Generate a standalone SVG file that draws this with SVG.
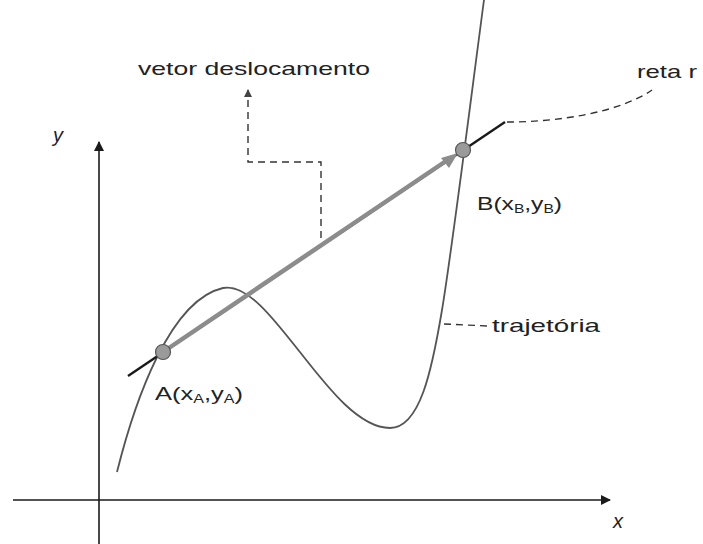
<svg xmlns="http://www.w3.org/2000/svg" width="703" height="544" viewBox="0 0 703 544">
<defs>
<style>
.t{font-family:"Liberation Sans",Arial,sans-serif;fill:#222;font-size:19px}
.ax{stroke:#1a1a1a;stroke-width:1.6;fill:none}
.dash{stroke:#333;stroke-width:1.4;fill:none;stroke-dasharray:7,5}
.pt{fill:#9a9a9a;stroke:#555;stroke-width:1.2}
.lbl{font-family:"Liberation Sans",Arial,sans-serif;font-style:italic;font-size:20px;fill:#222}
</style>
<marker id="ah" markerWidth="10" markerHeight="10" refX="9" refY="5" orient="auto" markerUnits="userSpaceOnUse">
<path d="M0,0 L10,5 L0,10 Z" fill="#1a1a1a"/>
</marker>
<marker id="sm" markerWidth="8" markerHeight="8" refX="7" refY="4" orient="auto" markerUnits="userSpaceOnUse">
<path d="M0,0 L8,4 L0,8 Z" fill="#444"/>
</marker>
</defs>
<rect width="703" height="544" fill="#ffffff"/>
<g id="axes">
<line class="ax" x1="99" y1="544" x2="99" y2="142" marker-end="url(#ah)"/>
<line class="ax" x1="13" y1="500" x2="610" y2="500" marker-end="url(#ah)"/>
<text class="lbl" x="53" y="142">y</text>
<text class="lbl" x="613" y="528">x</text>
</g>
<g id="trajetoria-curve">
<path d="M117,472 C135,400 170,300 223,288 C270,278 330,428 390,428 C420,428 432,370 442,310 C452,250 472,90 484,0" fill="none" stroke="#555" stroke-width="1.8"/>
</g>
<g id="reta-r">
<line x1="128" y1="376" x2="505" y2="122" stroke="#1a1a1a" stroke-width="2.4"/>
</g>
<g id="vetor">
<line x1="163" y1="352" x2="446" y2="161" stroke="#8c8c8c" stroke-width="4.5"/>
<path d="M458,153 L441,158 L449,168 Z" fill="#8c8c8c"/>
</g>
<g id="point-A">
<circle class="pt" cx="163" cy="352" r="7.5"/>
<text class="t" x="155" y="400" textLength="88" lengthAdjust="spacingAndGlyphs">A(x<tspan font-size="12" dy="3">A</tspan><tspan dy="-3">,y</tspan><tspan font-size="12" dy="3">A</tspan><tspan dy="-3">)</tspan></text>
</g>
<g id="point-B">
<circle class="pt" cx="463" cy="150" r="7.5"/>
<text class="t" x="477" y="210" textLength="85" lengthAdjust="spacingAndGlyphs">B(x<tspan font-size="12" dy="3">B</tspan><tspan dy="-3">,y</tspan><tspan font-size="12" dy="3">B</tspan><tspan dy="-3">)</tspan></text>
</g>
<g id="label-vetor">
<text class="t" x="138" y="75" textLength="232" lengthAdjust="spacingAndGlyphs">vetor deslocamento</text>
</g>
<g id="label-reta">
<text class="t" x="637" y="78" textLength="60" lengthAdjust="spacingAndGlyphs">reta r</text>
</g>
<g id="label-trajetoria">
<text class="t" x="492" y="332" textLength="108" lengthAdjust="spacingAndGlyphs">trajetória</text>
</g>
<g id="connectors">
<path class="dash" d="M321,238 L321,162 L248,162 L248,90" marker-end="url(#sm)"/>
<path class="dash" d="M507,122 C560,122 620,112 652,90"/>
<path class="dash" d="M444,324 L488,326" stroke-dasharray="6,5"/>
</g>
</svg>
